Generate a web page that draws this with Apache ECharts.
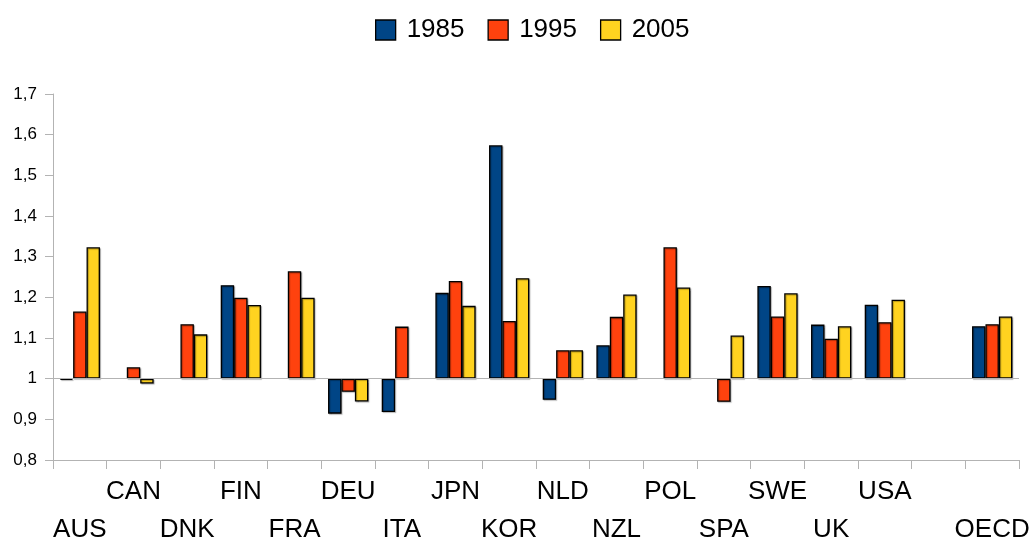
<!DOCTYPE html>
<html>
<head>
<meta charset="utf-8">
<script src="https://cdn.jsdelivr.net/npm/echarts@6/dist/echarts.min.js"></script>
<style>html,body{margin:0;padding:0;background:#fff}#c{width:1033px;height:549px}</style>
</head>
<body>
<div id="c"></div>
<script>
const categories = ['AUS','CAN','DNK','FIN','FRA','DEU','ITA','JPN','KOR','NLD','NZL','POL','SPA','SWE','UK','USA','','OECD'];
const topRowLabels = ['CAN','FIN','DEU','JPN','NLD','POL','SWE','USA'];
const years = ['1985','1995','2005'];
const v1985 = [0.997, null, null, 1.230, null, 0.914, 0.918, 1.211, 1.574, 0.948, 1.082, null, null, 1.228, 1.133, 1.182, null, 1.129];
const v1995 = [1.165, 1.028, 1.134, 1.199, 1.264, 0.968, 1.128, 1.240, 1.142, 1.070, 1.152, 1.323, 0.943, 1.153, 1.098, 1.139, null, 1.134];
const v2005 = [1.323, 0.988, 1.109, 1.181, 1.199, 0.944, null, 1.179, 1.247, 1.070, 1.207, 1.224, 1.106, 1.210, 1.129, 1.194, null, 1.153];
const baseline = 1;
const colors = ['#004586', '#ff420e', '#ffd320'];

const values = [v1985, v1995, v2005];
const FONT = 'Liberation Sans, Arial, sans-serif';
const series = [];
values.forEach((vals, i) => {
  series.push({
    name: 'base' + years[i], type: 'bar', stack: 's' + i,
    data: vals.map(v => v == null ? null : Math.min(v, baseline)),
    itemStyle: { color: 'transparent', borderWidth: 0 },
    emphasis: { disabled: true }, silent: true,
    barGap: '0%', barCategoryGap: '25%',
    markLine: i === 0 ? {
      silent: true, symbol: 'none', label: { show: false },
      lineStyle: { color: '#b3b3b3', width: 1, type: 'solid' },
      data: [{ yAxis: baseline }]
    } : undefined
  });
  series.push({
    name: years[i], type: 'bar', stack: 's' + i,
    data: vals.map(v => v == null ? null : Math.abs(v - baseline)),
    itemStyle: { color: colors[i], borderColor: '#000', borderWidth: 1.3,
      shadowColor: 'rgba(0,0,0,0.3)', shadowOffsetX: 1, shadowOffsetY: 1, shadowBlur: 1 },
    barGap: '0%', barCategoryGap: '25%'
  });
});

const chart = echarts.init(document.getElementById('c'));
chart.setOption({
  animation: false,
  textStyle: { fontFamily: FONT },
  legend: {
    data: years, top: 12, left: 370, icon: 'rect',
    itemWidth: 20, itemHeight: 20, itemGap: 23,
    itemStyle: { borderColor: '#000', borderWidth: 1.3 },
    textStyle: { fontSize: 26, color: '#000', fontFamily: FONT, padding: [0, 0, 0, 6] }
  },
  grid: { left: 53, right: 14, top: 94, bottom: 81, containLabel: false },
  xAxis: {
    type: 'category', data: categories,
    axisLine: { lineStyle: { color: '#b3b3b3', width: 1 } },
    axisTick: { show: true, length: 9, alignWithLabel: false, interval: 0, lineStyle: { color: '#b3b3b3' } },
    axisLabel: {
      interval: 0, fontSize: 26, color: '#000', fontFamily: FONT, margin: 13, lineHeight: 38,
      formatter: function (name) {
        if (!name) return '';
        return topRowLabels.indexOf(name) >= 0 ? name : '\n' + name;
      }
    },
    splitLine: { show: false }
  },
  yAxis: {
    type: 'value', min: 0.8, max: 1.7, interval: 0.1,
    axisLine: { show: true, lineStyle: { color: '#b3b3b3', width: 1 } },
    axisTick: { show: true, length: 8, lineStyle: { color: '#b3b3b3' } },
    splitLine: { show: false },
    axisLabel: {
      fontSize: 17, color: '#000', fontFamily: FONT, margin: 16,
      formatter: function (v) {
        if (Math.abs(v - 1) < 1e-9) return '1';
        return v.toFixed(1).replace('.', ',');
      }
    }
  },
  series: series
});
</script>
</body>
</html>
